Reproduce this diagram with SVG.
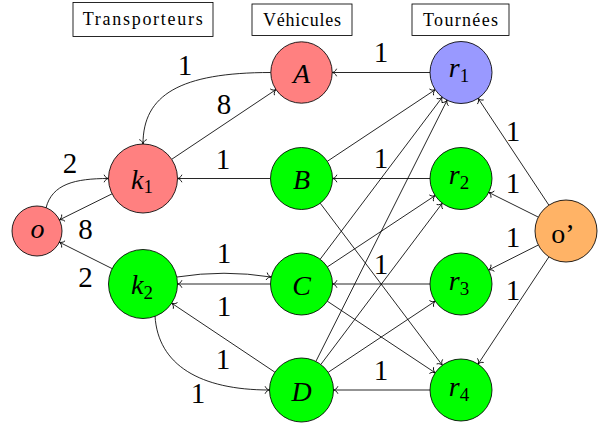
<svg xmlns="http://www.w3.org/2000/svg" width="600" height="424" viewBox="0 0 600 424">
<defs>
<marker id="arr" markerUnits="userSpaceOnUse" markerWidth="12" markerHeight="12" viewBox="-6 -6 12 12" refX="0" refY="0" orient="auto" overflow="visible">
<path d="M -4.3 -3.4 C -3.6 -1.2 -1.2 -0.3 0 0 C -1.2 0.3 -3.6 1.2 -4.3 3.4" fill="none" stroke="#000" stroke-width="0.85" stroke-linecap="round"/>
</marker>
<style>
.hdr{fill:#fff;stroke:#000;stroke-width:0.85}
.ht{font-size:18px;fill:#000;text-anchor:middle}
.n{stroke:#000;stroke-width:0.85}
.red{fill:#FF8080}.grn{fill:#00FF00}.blu{fill:#9999FF}.org{fill:#FFB366}
.nl{font-size:28px;font-style:italic;fill:#000;text-anchor:middle}
.sub{font-size:19px;font-style:normal}
.up{font-style:normal}
.e{fill:none;stroke:#000;stroke-width:0.85;marker-end:url(#arr)}
.lb{font-size:29px;fill:#000;text-anchor:middle}
</style>
</defs>
<rect width="600" height="424" fill="#fff"/>
<g font-family="'Liberation Serif', 'DejaVu Serif', 'Times New Roman', serif">
<g id="headers">
<g id="h-transporteurs"><rect class="hdr" x="73" y="2.5" width="140" height="34"/><text class="ht" x="142.7" y="25" textLength="120" lengthAdjust="spacing">Transporteurs</text></g>
<g id="h-vehicules"><rect class="hdr" x="252" y="4" width="100" height="31.5"/><text class="ht" x="302" y="25.5" textLength="78" lengthAdjust="spacing">Véhicules</text></g>
<g id="h-tournees"><rect class="hdr" x="412" y="4" width="97" height="31.5"/><text class="ht" x="460.5" y="25.5" textLength="75" lengthAdjust="spacing">Tournées</text></g>
</g>
<g id="connectors">
<line class="e" x1="430" y1="72.5" x2="332.2" y2="72.5"/>
<line class="e" x1="430" y1="178.5" x2="332.5" y2="178.5"/>
<line class="e" x1="430" y1="284" x2="332.5" y2="284"/>
<line class="e" x1="430" y1="390" x2="333.5" y2="390"/>
<line class="e" x1="270.5" y1="178.5" x2="177.5" y2="178.5"/>
<line class="e" x1="270.5" y1="284" x2="177.5" y2="284"/>
<line class="e" x1="171.7" y1="159.3" x2="276" y2="89.6"/>
<line class="e" x1="112.1" y1="193.8" x2="59.4" y2="219.9"/>
<line class="e" x1="112.1" y1="268.6" x2="59.4" y2="242.2"/>
<line class="e" x1="274.9" y1="372.2" x2="171.7" y2="303.2"/>
<line class="e" x1="548.9" y1="205.2" x2="478.1" y2="98.3"/>
<line class="e" x1="538.3" y1="217.1" x2="488.7" y2="192.4"/>
<line class="e" x1="538.3" y1="245" x2="488.7" y2="270"/>
<line class="e" x1="548.9" y1="256.9" x2="478.1" y2="364.1"/>
<line class="e" x1="327.3" y1="161.3" x2="435.2" y2="89.7"/>
<line class="e" x1="320.2" y1="259.2" x2="442.3" y2="97.2"/>
<line class="e" x1="315.9" y1="361.4" x2="447.1" y2="100.2"/>
<line class="e" x1="327.4" y1="266.9" x2="435.1" y2="195.6"/>
<line class="e" x1="320.8" y1="364.5" x2="442.3" y2="203.2"/>
<line class="e" x1="320.2" y1="203.2" x2="442.3" y2="365.2"/>
<line class="e" x1="327.3" y1="301.2" x2="435.2" y2="372.8"/>
<line class="e" x1="328.2" y1="372.3" x2="435.2" y2="301.2"/>
<path class="e" d="M 270.8 72.5 C 180 72.5 143 95 143 144"/>
<path class="e" d="M 46 208 C 52 184 75 178.5 108.5 178.5"/>
<path class="e" d="M 177 277 Q 224 269.5 271 277"/>
<path class="e" d="M 155 316 C 158 365 200 390 269.5 390"/>
</g>
<g id="edge-labels">
<text class="lb" x="185" y="75">1</text>
<text class="lb" x="224" y="114">8</text>
<text class="lb" x="381" y="62">1</text>
<text class="lb" x="70" y="173">2</text>
<text class="lb" x="223" y="169">1</text>
<text class="lb" x="85.5" y="239">8</text>
<text class="lb" x="85.5" y="287">2</text>
<text class="lb" x="224" y="263">1</text>
<text class="lb" x="224" y="316">1</text>
<text class="lb" x="223" y="369">1</text>
<text class="lb" x="198" y="403">1</text>
<text class="lb" x="381" y="168">1</text>
<text class="lb" x="381" y="274">1</text>
<text class="lb" x="381" y="380">1</text>
<text class="lb" x="513" y="141">1</text>
<text class="lb" x="513" y="193">1</text>
<text class="lb" x="513" y="247">1</text>
<text class="lb" x="513" y="300">1</text>
</g>
<g id="node-o"><circle class="n red" cx="37" cy="231" r="25"/><text class="nl" x="37.5" y="238">o</text></g>
<g id="node-k1"><circle class="n red" cx="143" cy="178.5" r="34.5"/><text class="nl" x="142" y="189"><tspan>k</tspan><tspan class="sub" dy="4">1</tspan></text></g>
<g id="node-k2"><circle class="n grn" cx="143" cy="284" r="34.5"/><text class="nl" x="142" y="294"><tspan>k</tspan><tspan class="sub" dy="4.5">2</tspan></text></g>
<g id="node-A"><circle class="n red" cx="301.5" cy="72.5" r="30.7"/><text class="nl" x="301.5" y="83">A</text></g>
<g id="node-B"><circle class="n grn" cx="301.5" cy="178.5" r="31"/><text class="nl" x="301.5" y="189">B</text></g>
<g id="node-C"><circle class="n grn" cx="301.5" cy="284" r="31"/><text class="nl" x="301.5" y="294.5">C</text></g>
<g id="node-D"><circle class="n grn" cx="301.5" cy="390" r="32"/><text class="nl" x="301.5" y="400.5">D</text></g>
<g id="node-r1"><circle class="n blu" cx="461" cy="72.5" r="31"/><text class="nl" x="459" y="77"><tspan>r</tspan><tspan class="sub" dy="5">1</tspan></text></g>
<g id="node-r2"><circle class="n grn" cx="461" cy="178.5" r="31"/><text class="nl" x="459" y="184"><tspan>r</tspan><tspan class="sub" dy="5">2</tspan></text></g>
<g id="node-r3"><circle class="n grn" cx="461" cy="284" r="31"/><text class="nl" x="459" y="289.5"><tspan>r</tspan><tspan class="sub" dy="5">3</tspan></text></g>
<g id="node-r4"><circle class="n grn" cx="461" cy="390" r="31"/><text class="nl" x="459" y="395.5"><tspan>r</tspan><tspan class="sub" dy="5">4</tspan></text></g>
<g id="node-oprime"><circle class="n org" cx="566" cy="231" r="31"/><text class="nl up" x="563" y="243">o’</text></g>
</g>
</svg>
